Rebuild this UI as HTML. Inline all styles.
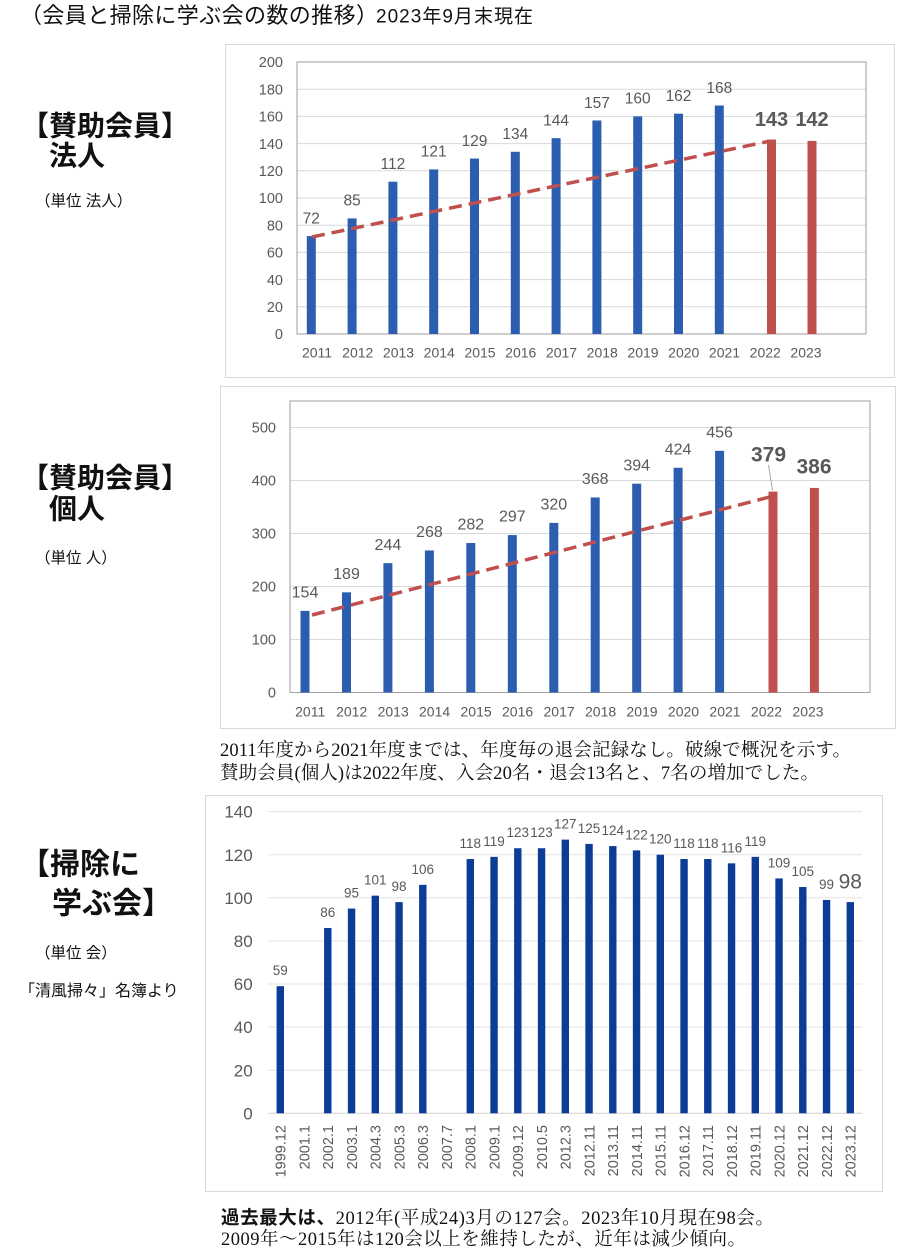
<!DOCTYPE html>
<html>
<head>
<meta charset="utf-8">
<style>
html,body{margin:0;padding:0;background:#fff;}
svg{display:block;}
.s{font-family:"Liberation Sans","Noto Sans CJK JP",sans-serif;}
.m{font-family:"Liberation Serif","Noto Serif CJK SC",serif;}
.g{fill:#595959;}
</style>
</head>
<body>
<svg width="900" height="1252" viewBox="0 0 900 1252" xmlns="http://www.w3.org/2000/svg">
<rect x="0" y="0" width="900" height="1252" fill="#fff"/>

<!-- Header -->
<text class="s" x="20" y="23" font-size="22" fill="#111" textLength="358" lengthAdjust="spacing">（会員と掃除に学ぶ会の数の推移）</text>
<text class="s" x="376" y="22.5" font-size="19" fill="#111" textLength="157" lengthAdjust="spacing">2023年9月末現在</text>

<!-- Left labels -->
<text class="s" x="21" y="135.6" font-size="28" font-weight="bold" fill="#111">【賛助会員】</text>
<text class="s" x="49" y="165.6" font-size="28" font-weight="bold" fill="#111">法人</text>
<text class="s" x="35" y="206" font-size="15.5" fill="#111">（単位 法人）</text>

<text class="s" x="21" y="487.6" font-size="28" font-weight="bold" fill="#111">【賛助会員】</text>
<text class="s" x="49" y="518.6" font-size="28" font-weight="bold" fill="#111">個人</text>
<text class="s" x="35" y="563" font-size="15.5" fill="#111">（単位 人）</text>

<text class="s" x="20" y="874.4" font-size="30" font-weight="bold" fill="#111">【掃除に</text>
<text class="s" x="52" y="913.4" font-size="30" font-weight="bold" fill="#111">学ぶ会】</text>
<text class="s" x="35" y="958" font-size="15.5" fill="#111">（単位 会）</text>
<text class="s" x="19" y="996" font-size="16" fill="#111">「清風掃々」名簿より</text>

<!-- ============ Chart 1 ============ -->
<rect x="225.5" y="44.5" width="669" height="333" fill="#fff" stroke="#d9d9d9" stroke-width="1"/>
<g stroke="#d9d9d9" stroke-width="1">
<line x1="297" y1="306.8" x2="866" y2="306.8"/>
<line x1="297" y1="279.6" x2="866" y2="279.6"/>
<line x1="297" y1="252.4" x2="866" y2="252.4"/>
<line x1="297" y1="225.2" x2="866" y2="225.2"/>
<line x1="297" y1="198" x2="866" y2="198"/>
<line x1="297" y1="170.8" x2="866" y2="170.8"/>
<line x1="297" y1="143.6" x2="866" y2="143.6"/>
<line x1="297" y1="116.4" x2="866" y2="116.4"/>
<line x1="297" y1="89.2" x2="866" y2="89.2"/>
</g>
<rect x="297" y="62" width="569" height="272" fill="none" stroke="#9e9e9e" stroke-width="1"/>
<g class="s g" font-size="14.5" text-anchor="end">
<text x="283" y="339.2">0</text>
<text x="283" y="312">20</text>
<text x="283" y="284.8">40</text>
<text x="283" y="257.6">60</text>
<text x="283" y="230.4">80</text>
<text x="283" y="203.2">100</text>
<text x="283" y="176">120</text>
<text x="283" y="148.8">140</text>
<text x="283" y="121.6">160</text>
<text x="283" y="94.4">180</text>
<text x="283" y="67.2">200</text>
</g>
<g fill="#2b5eb0">
<rect x="306.8" y="236.08" width="9" height="97.92"/>
<rect x="347.6" y="218.4" width="9" height="115.6"/>
<rect x="388.4" y="181.68" width="9" height="152.32"/>
<rect x="429.2" y="169.44" width="9" height="164.56"/>
<rect x="470.0" y="158.56" width="9" height="175.44"/>
<rect x="510.8" y="151.76" width="9" height="182.24"/>
<rect x="551.6" y="138.16" width="9" height="195.84"/>
<rect x="592.4" y="120.48" width="9" height="213.52"/>
<rect x="633.2" y="116.4" width="9" height="217.6"/>
<rect x="674.0" y="113.68" width="9" height="220.32"/>
<rect x="714.8" y="105.52" width="9" height="228.48"/>
</g>
<g fill="#c0504d">
<rect x="767" y="139.52" width="9" height="194.48"/>
<rect x="807.5" y="140.88" width="9" height="193.12"/>
</g>
<line x1="312" y1="237" x2="768" y2="141.5" stroke="#c0504d" stroke-width="3.5" stroke-dasharray="13 7"/>
<g class="s g" font-size="15.5" text-anchor="middle">
<text x="311.3" y="223.4">72</text>
<text x="352.1" y="205.7">85</text>
<text x="392.9" y="169">112</text>
<text x="433.7" y="156.7">121</text>
<text x="474.5" y="145.9">129</text>
<text x="515.3" y="139.1">134</text>
<text x="556.1" y="125.5">144</text>
<text x="596.9" y="107.8">157</text>
<text x="637.7" y="103.7">160</text>
<text x="678.5" y="101">162</text>
<text x="719.3" y="92.8">168</text>
</g>
<g class="s g" font-size="20" font-weight="bold" text-anchor="middle">
<text x="771.5" y="126.2">143</text>
<text x="812" y="126.2">142</text>
</g>
<g class="s g" font-size="14" text-anchor="middle">
<text x="317" y="357.7">2011</text>
<text x="357.75" y="357.7">2012</text>
<text x="398.5" y="357.7">2013</text>
<text x="439.25" y="357.7">2014</text>
<text x="480" y="357.7">2015</text>
<text x="520.75" y="357.7">2016</text>
<text x="561.5" y="357.7">2017</text>
<text x="602.25" y="357.7">2018</text>
<text x="643" y="357.7">2019</text>
<text x="683.75" y="357.7">2020</text>
<text x="724.5" y="357.7">2021</text>
<text x="765.25" y="357.7">2022</text>
<text x="806" y="357.7">2023</text>
</g>

<!-- ============ Chart 2 ============ -->
<rect x="220.5" y="386.5" width="675" height="342" fill="#fff" stroke="#d9d9d9" stroke-width="1"/>
<g stroke="#d9d9d9" stroke-width="1">
<line x1="290" y1="639.5" x2="870" y2="639.5"/>
<line x1="290" y1="586.5" x2="870" y2="586.5"/>
<line x1="290" y1="533.5" x2="870" y2="533.5"/>
<line x1="290" y1="480.5" x2="870" y2="480.5"/>
<line x1="290" y1="427.5" x2="870" y2="427.5"/>
</g>
<rect x="290" y="401" width="580" height="291.5" fill="none" stroke="#9e9e9e" stroke-width="1"/>
<g class="s g" font-size="14.5" text-anchor="end">
<text x="276" y="697.7">0</text>
<text x="276" y="644.7">100</text>
<text x="276" y="591.7">200</text>
<text x="276" y="538.7">300</text>
<text x="276" y="485.7">400</text>
<text x="276" y="432.7">500</text>
</g>
<g fill="#2b5eb0">
<rect x="300.5" y="610.88" width="9" height="81.62"/>
<rect x="342" y="592.33" width="9" height="100.17"/>
<rect x="383.4" y="563.18" width="9" height="129.32"/>
<rect x="424.9" y="550.46" width="9" height="142.04"/>
<rect x="466.3" y="543.04" width="9" height="149.46"/>
<rect x="507.8" y="535.09" width="9" height="157.41"/>
<rect x="549.3" y="522.9" width="9" height="169.6"/>
<rect x="590.7" y="497.46" width="9" height="195.04"/>
<rect x="632.2" y="483.68" width="9" height="208.82"/>
<rect x="673.6" y="467.78" width="9" height="224.72"/>
<rect x="715.1" y="450.82" width="9" height="241.68"/>
</g>
<g fill="#c0504d">
<rect x="768.5" y="491.63" width="9" height="200.87"/>
<rect x="809.9" y="487.92" width="9" height="204.58"/>
</g>
<line x1="312" y1="615" x2="770.8" y2="496.7" stroke="#c0504d" stroke-width="3.5" stroke-dasharray="13 7"/>
<line x1="768.5" y1="465" x2="772.5" y2="490.5" stroke="#a6a6a6" stroke-width="1"/>
<g class="s g" font-size="16" text-anchor="middle">
<text x="305" y="597.5">154</text>
<text x="346.5" y="578.9">189</text>
<text x="387.9" y="549.8">244</text>
<text x="429.4" y="537.1">268</text>
<text x="470.8" y="529.6">282</text>
<text x="512.3" y="521.7">297</text>
<text x="553.8" y="509.5">320</text>
<text x="595.2" y="484.1">368</text>
<text x="636.7" y="470.3">394</text>
<text x="678.1" y="454.4">424</text>
<text x="719.6" y="437.4">456</text>
</g>
<g class="s g" font-size="21" font-weight="bold" text-anchor="middle">
<text x="768.5" y="461.6">379</text>
<text x="814" y="473.6">386</text>
</g>
<g class="s g" font-size="14" text-anchor="middle">
<text x="310.2" y="716.7">2011</text>
<text x="351.7" y="716.7">2012</text>
<text x="393.2" y="716.7">2013</text>
<text x="434.6" y="716.7">2014</text>
<text x="476.1" y="716.7">2015</text>
<text x="517.6" y="716.7">2016</text>
<text x="559.1" y="716.7">2017</text>
<text x="600.6" y="716.7">2018</text>
<text x="642" y="716.7">2019</text>
<text x="683.5" y="716.7">2020</text>
<text x="725" y="716.7">2021</text>
<text x="766.5" y="716.7">2022</text>
<text x="808" y="716.7">2023</text>
</g>

<!-- Chart 2 caption -->
<text class="m" x="220" y="756" font-size="18.5" fill="#111" textLength="631" lengthAdjust="spacing">2011年度から2021年度までは、年度毎の退会記録なし。破線で概況を示す。</text>
<text class="m" x="220" y="779" font-size="18.5" fill="#111" textLength="599" lengthAdjust="spacing">賛助会員(個人)は2022年度、入会20名・退会13名と、7名の増加でした。</text>

<!-- ============ Chart 3 ============ -->
<rect x="205.5" y="795.5" width="677" height="396" fill="#fff" stroke="#d9d9d9" stroke-width="1"/>
<g stroke="#e3e3e3" stroke-width="1">
<line x1="268" y1="1070.2" x2="862" y2="1070.2"/>
<line x1="268" y1="1027.1" x2="862" y2="1027.1"/>
<line x1="268" y1="984" x2="862" y2="984"/>
<line x1="268" y1="940.9" x2="862" y2="940.9"/>
<line x1="268" y1="897.8" x2="862" y2="897.8"/>
<line x1="268" y1="854.7" x2="862" y2="854.7"/>
<line x1="268" y1="811.6" x2="862" y2="811.6"/>
</g>
<line x1="268" y1="1113.3" x2="862" y2="1113.3" stroke="#d0d0d0" stroke-width="1"/>
<g class="s g" font-size="17" text-anchor="end">
<text x="252.7" y="1119.4">0</text>
<text x="252.7" y="1076.3">20</text>
<text x="252.7" y="1033.2">40</text>
<text x="252.7" y="990.1">60</text>
<text x="252.7" y="947">80</text>
<text x="252.7" y="903.9">100</text>
<text x="252.7" y="860.8">120</text>
<text x="252.7" y="817.7">140</text>
</g>
<g fill="#0c3c96">
<rect x="276.6" y="986.16" width="7.4" height="127.14"/>
<rect x="324.1" y="927.97" width="7.4" height="185.33"/>
<rect x="347.85" y="908.57" width="7.4" height="204.73"/>
<rect x="371.6" y="895.64" width="7.4" height="217.66"/>
<rect x="395.35" y="902.11" width="7.4" height="211.19"/>
<rect x="419.1" y="884.87" width="7.4" height="228.43"/>
<rect x="466.6" y="859.01" width="7.4" height="254.29"/>
<rect x="490.35" y="856.85" width="7.4" height="256.45"/>
<rect x="514.1" y="848.23" width="7.4" height="265.07"/>
<rect x="537.85" y="848.23" width="7.4" height="265.07"/>
<rect x="561.6" y="839.61" width="7.4" height="273.69"/>
<rect x="585.35" y="843.92" width="7.4" height="269.38"/>
<rect x="609.1" y="846.08" width="7.4" height="267.22"/>
<rect x="632.85" y="850.39" width="7.4" height="262.91"/>
<rect x="656.6" y="854.7" width="7.4" height="258.6"/>
<rect x="680.35" y="859.01" width="7.4" height="254.29"/>
<rect x="704.1" y="859.01" width="7.4" height="254.29"/>
<rect x="727.85" y="863.32" width="7.4" height="249.98"/>
<rect x="751.6" y="856.85" width="7.4" height="256.45"/>
<rect x="775.35" y="878.4" width="7.4" height="234.9"/>
<rect x="799.1" y="887.02" width="7.4" height="226.28"/>
<rect x="822.85" y="899.95" width="7.4" height="213.35"/>
<rect x="846.6" y="902.11" width="7.4" height="211.19"/>
</g>
<g class="s g" font-size="13.5" text-anchor="middle">
<text x="280.3" y="975.2">59</text>
<text x="327.8" y="917">86</text>
<text x="351.55" y="897.6">95</text>
<text x="375.3" y="884.6">101</text>
<text x="399.05" y="891.1">98</text>
<text x="422.8" y="873.9">106</text>
<text x="470.3" y="848">118</text>
<text x="494.05" y="845.9">119</text>
<text x="517.8" y="837.2">123</text>
<text x="541.55" y="837.2">123</text>
<text x="565.3" y="828.6">127</text>
<text x="589.05" y="832.9">125</text>
<text x="612.8" y="835.1">124</text>
<text x="636.55" y="839.4">122</text>
<text x="660.3" y="843.7">120</text>
<text x="684.05" y="848">118</text>
<text x="707.8" y="848">118</text>
<text x="731.55" y="852.3">116</text>
<text x="755.3" y="845.9">119</text>
<text x="779.05" y="867.4">109</text>
<text x="802.8" y="876">105</text>
<text x="826.55" y="889">99</text>
</g>
<text class="s g" x="850.3" y="888.3" font-size="21" text-anchor="middle">98</text>
<g class="s g" font-size="14.5" text-anchor="end">
<text transform="translate(285.5,1125) rotate(-90)">1999.12</text>
<text transform="translate(309.25,1125) rotate(-90)">2001.1</text>
<text transform="translate(333,1125) rotate(-90)">2002.1</text>
<text transform="translate(356.75,1125) rotate(-90)">2003.1</text>
<text transform="translate(380.5,1125) rotate(-90)">2004.3</text>
<text transform="translate(404.25,1125) rotate(-90)">2005.3</text>
<text transform="translate(428,1125) rotate(-90)">2006.3</text>
<text transform="translate(451.75,1125) rotate(-90)">2007.7</text>
<text transform="translate(475.5,1125) rotate(-90)">2008.1</text>
<text transform="translate(499.25,1125) rotate(-90)">2009.1</text>
<text transform="translate(523,1125) rotate(-90)">2009.12</text>
<text transform="translate(546.75,1125) rotate(-90)">2010.5</text>
<text transform="translate(570.5,1125) rotate(-90)">2012.3</text>
<text transform="translate(594.25,1125) rotate(-90)">2012.11</text>
<text transform="translate(618,1125) rotate(-90)">2013.11</text>
<text transform="translate(641.75,1125) rotate(-90)">2014.11</text>
<text transform="translate(665.5,1125) rotate(-90)">2015.11</text>
<text transform="translate(689.25,1125) rotate(-90)">2016.12</text>
<text transform="translate(713,1125) rotate(-90)">2017.11</text>
<text transform="translate(736.75,1125) rotate(-90)">2018.12</text>
<text transform="translate(760.5,1125) rotate(-90)">2019.11</text>
<text transform="translate(784.25,1125) rotate(-90)">2020.12</text>
<text transform="translate(808,1125) rotate(-90)">2021.12</text>
<text transform="translate(831.75,1125) rotate(-90)">2022.12</text>
<text transform="translate(855.5,1125) rotate(-90)">2023.12</text>
</g>

<!-- Bottom caption -->
<text x="221" y="1224" font-size="18.5" fill="#111" textLength="553" lengthAdjust="spacing"><tspan class="s" font-weight="bold">過去最大は、</tspan><tspan class="m">2012年(平成24)3月の127会。2023年10月現在98会。</tspan></text>
<text class="m" x="221" y="1245" font-size="18.5" fill="#111" textLength="525" lengthAdjust="spacing">2009年～2015年は120会以上を維持したが、近年は減少傾向。</text>
</svg>
</body>
</html>
